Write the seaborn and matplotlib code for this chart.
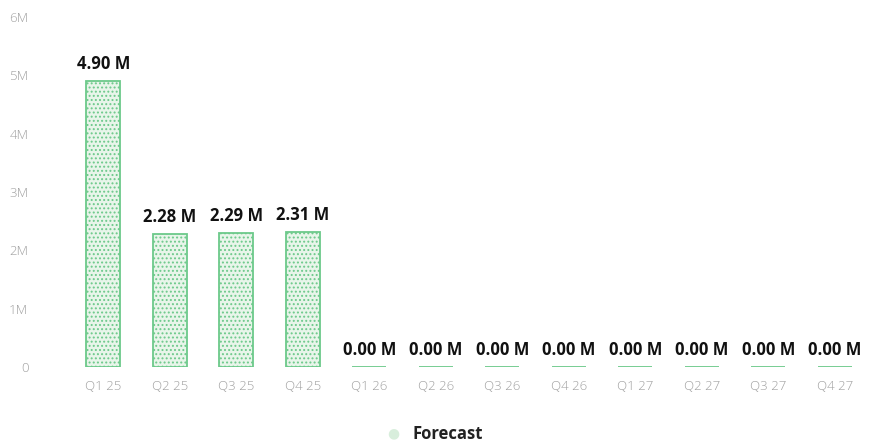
import matplotlib
matplotlib.use("Agg")
import matplotlib.pyplot as plt
import seaborn as sns
import pandas as pd

quarters = ["Q1 25", "Q2 25", "Q3 25", "Q4 25", "Q1 26", "Q2 26",
            "Q3 26", "Q4 26", "Q1 27", "Q2 27", "Q3 27", "Q4 27"]
forecast_m = [4.90, 2.28, 2.29, 2.31, 0.0, 0.0, 0.0, 0.0, 0.0, 0.0, 0.0, 0.0]
y_ticks = [0, 1, 2, 3, 4, 5, 6]
y_tick_labels = ["0", "1M", "2M", "3M", "4M", "5M", "6M"]

sns.set_theme(style="white")
plt.rcParams["font.family"] = ["Open Sans", "DejaVu Sans"]
plt.rcParams["hatch.color"] = "#b3dcbc"
plt.rcParams["hatch.linewidth"] = 0.9

df = pd.DataFrame({"quarter": quarters, "value": forecast_m})

fig = plt.figure(figsize=(8.88, 4.46), dpi=100)
ax = fig.add_axes([70 / 888, 79 / 446, 798 / 888, 350 / 446])

sns.barplot(data=df, x="quarter", y="value", ax=ax, width=0.51,
            color="#e8f5ea", edgecolor="#6cc98a", linewidth=1.3,
            hatch="....", saturation=1)

for p, v in zip(ax.patches, forecast_m):
    ax.annotate(f"{v:.2f} M", (p.get_x() + p.get_width() / 2, p.get_height()),
                xytext=(0, 6), textcoords="offset points",
                ha="center", va="bottom", fontsize=12, fontweight="bold",
                color="#111111")

ax.set_ylim(0, 6)
ax.set_yticks(y_ticks)
ax.set_yticklabels(y_tick_labels)
ax.set_xlabel("")
ax.set_ylabel("")
ax.tick_params(axis="both", length=0, colors="#a0a0a0", labelsize=9.5)
ax.tick_params(axis="y", pad=30)
ax.tick_params(axis="x", pad=9)
for lab in ax.get_xticklabels() + ax.get_yticklabels():
    lab.set_fontweight("light")
for s in ax.spines.values():
    s.set_visible(False)

fig.text(393 / 888, 0.027, "\u25cf", color="#d8eedc", fontsize=10, ha="center", va="center")
fig.text(412 / 888, 0.027, "Forecast", color="#222222", fontsize=12,
         fontweight="bold", ha="left", va="center")

fig.savefig("out.png", dpi=100)
